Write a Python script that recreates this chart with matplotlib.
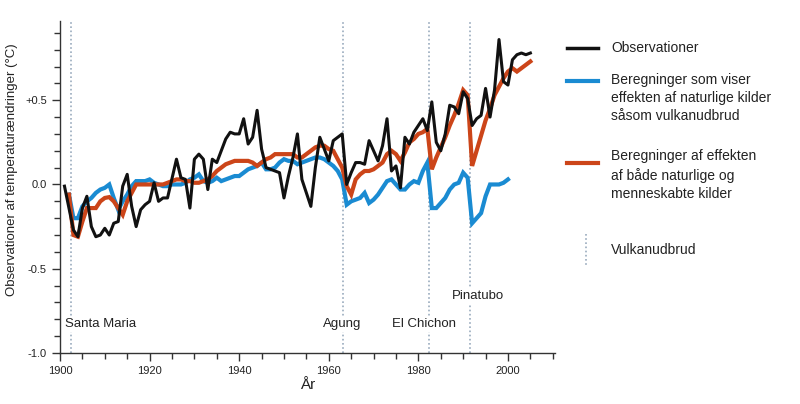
import matplotlib
matplotlib.use("Agg")
import matplotlib.pyplot as plt
from matplotlib.lines import Line2D
from matplotlib.ticker import MultipleLocator, FixedLocator

plt.rcParams['font.family'] = ['Liberation Sans', 'DejaVu Sans']

BLACK = "#111111"
BLUE = "#1a8bd2"
RED = "#cc4519"
VOLC = "#9aabbd"

# observations
obs_years = [1901, 1903, 1904, 1905, 1906, 1907, 1908, 1909, 1910, 1911, 1912, 1913,
             1914, 1915, 1916, 1917, 1918, 1919, 1920, 1921, 1922, 1923, 1924, 1926,
             1927, 1928, 1929, 1930, 1931, 1932, 1933, 1934, 1935, 1936, 1937, 1938,
             1939, 1940, 1941, 1942, 1943, 1944, 1945, 1946, 1947, 1948, 1949, 1950,
             1951, 1952, 1953, 1954, 1955, 1956, 1957, 1958, 1959, 1960, 1961, 1962,
             1963, 1964, 1965, 1966, 1967, 1968, 1969, 1970, 1971, 1972, 1973, 1974,
             1975, 1976, 1977, 1978, 1979, 1980, 1981, 1982, 1983, 1984, 1985, 1986,
             1987, 1988, 1989, 1990, 1991, 1992, 1993, 1994, 1995, 1996, 1997, 1998,
             1999, 2000, 2001, 2002, 2003, 2004, 2005]
obs_vals = [-0.01, -0.27, -0.31, -0.14, -0.07, -0.25, -0.31, -0.30, -0.26, -0.30, -0.23, -0.22,
            -0.01, 0.06, -0.13, -0.25, -0.15, -0.12, -0.10, 0.01, -0.10, -0.08, -0.08, 0.15,
            0.04, 0.03, -0.14, 0.15, 0.18, 0.15, -0.03, 0.15, 0.13, 0.20, 0.27, 0.31,
            0.30, 0.30, 0.39, 0.24, 0.28, 0.44, 0.21, 0.10, 0.09, 0.08, 0.07, -0.08,
            0.05, 0.16, 0.30, 0.03, -0.05, -0.13, 0.10, 0.28, 0.21, 0.14, 0.26, 0.28,
            0.30, 0.00, 0.07, 0.13, 0.13, 0.12, 0.26, 0.20, 0.14, 0.23, 0.39, 0.08,
            0.11, -0.02, 0.28, 0.24, 0.31, 0.35, 0.39, 0.32, 0.49, 0.25, 0.20, 0.30,
            0.47, 0.46, 0.42, 0.55, 0.51, 0.35, 0.39, 0.41, 0.57, 0.40, 0.56, 0.86,
            0.61, 0.59, 0.74, 0.77, 0.78, 0.77, 0.78]

# model: natural + anthropogenic
all_years = list(range(1902, 2006))
all_vals = [-0.06, -0.30, -0.31, -0.22, -0.14, -0.14, -0.14, -0.10, -0.08, -0.075,
            -0.10, -0.14, -0.18, -0.10, -0.05, 0.00, 0.00, 0.00, 0.00, 0.00,
            0.00, 0.00, 0.01, 0.02, 0.03, 0.03, 0.02, 0.02, 0.01, 0.01,
            0.02, 0.03, 0.05, 0.08, 0.10, 0.12, 0.13, 0.14, 0.14, 0.14,
            0.14, 0.13, 0.11, 0.13, 0.15, 0.16, 0.18, 0.18, 0.18, 0.18,
            0.18, 0.16, 0.16, 0.18, 0.20, 0.22, 0.23, 0.23, 0.21, 0.20,
            0.15, 0.10, -0.01, -0.06, 0.03, 0.06, 0.08, 0.08, 0.09, 0.11,
            0.13, 0.18, 0.20, 0.18, 0.14, 0.19, 0.25, 0.27, 0.30, 0.31,
            0.33, 0.09, 0.16, 0.22, 0.28, 0.35, 0.41, 0.48, 0.56, 0.53,
            0.11, 0.20, 0.29, 0.38, 0.45, 0.53, 0.58, 0.63, 0.67, 0.69,
            0.67, 0.69, 0.71, 0.73]

# model: natural only
nat_years = list(range(1902, 2001))
nat_vals = [-0.06, -0.20, -0.20, -0.13, -0.10, -0.08, -0.05, -0.03, -0.02, 0.00,
            -0.08, -0.15, -0.10, -0.06, -0.01, 0.02, 0.02, 0.02, 0.03, 0.01,
            0.00, -0.01, -0.01, 0.00, 0.00, 0.00, 0.01, 0.03, 0.04, 0.06,
            0.02, 0.01, 0.02, 0.04, 0.02, 0.03, 0.04, 0.05, 0.05, 0.07,
            0.09, 0.10, 0.11, 0.13, 0.09, 0.09, 0.10, 0.13, 0.15, 0.14,
            0.14, 0.12, 0.13, 0.14, 0.15, 0.16, 0.16, 0.15, 0.13, 0.11,
            0.08, 0.03, -0.12, -0.10, -0.09, -0.08, -0.05, -0.11, -0.09, -0.06,
            -0.02, 0.02, 0.03, 0.00, -0.03, -0.03, 0.00, 0.02, 0.01, 0.08,
            0.13, -0.14, -0.14, -0.11, -0.08, -0.03, 0.00, 0.01, 0.07, 0.04,
            -0.23, -0.20, -0.17, -0.07, 0.00, 0.00, 0.00, 0.01, 0.03]

volcano_years = [1902.5, 1963.2, 1982.3, 1991.5]
volcano_names = ["Santa Maria", "Agung", "El Chichon", "Pinatubo"]
volcano_label_x = [1901.1, 1958.7, 1974.2, 1987.5]
volcano_label_y = [-0.83, -0.83, -0.83, -0.66]

legend_labels = ["Observationer",
                 "Beregninger som viser\neffekten af naturlige kilder\nsåsom vulkanudbrud",
                 "Beregninger af effekten\naf både naturlige og\nmenneskabte kilder",
                 "Vulkanudbrud"]

W, H = 800, 404
fig = plt.figure(figsize=(8.0, 4.04), dpi=100)
ax = fig.add_axes([60 / W, 1 - 353 / H, 495 / W, 332 / H])

for v in volcano_years:
    ax.axvline(v, ymin=0, ymax=1, color=VOLC, lw=1.2, ls=(0, (1, 1.5)), zorder=1)

ax.plot(nat_years, nat_vals, color=BLUE, lw=3.0, zorder=3, solid_joinstyle="miter")
ax.plot(all_years, all_vals, color=RED, lw=3.0, zorder=4, solid_joinstyle="miter")
ax.plot(obs_years, obs_vals, color=BLACK, lw=2.2, zorder=5)

for name, lx, ly in zip(volcano_names, volcano_label_x, volcano_label_y):
    ax.text(lx, ly, name, fontsize=9.5, color="#222222", va="center", ha="left",
            zorder=6, bbox=dict(facecolor="white", edgecolor="none", pad=1.0))

ax.set_xlim(1900, 2010.5)
ax.set_ylim(-1.0, 0.97)
ax.spines["top"].set_visible(False)
ax.spines["right"].set_visible(False)
for s in ("left", "bottom"):
    ax.spines[s].set_color("#333333")
    ax.spines[s].set_linewidth(1.0)

ax.xaxis.set_major_locator(FixedLocator([1900, 1920, 1940, 1960, 1980, 2000]))
ax.xaxis.set_minor_locator(MultipleLocator(5))
ax.yaxis.set_major_locator(FixedLocator([-1.0, -0.5, 0.0, 0.5]))
ax.yaxis.set_minor_locator(MultipleLocator(0.1))
ax.set_yticklabels(["-1.0", "-0.5", "0.0", "+0.5"])
ax.tick_params(axis="both", which="major", labelsize=8, colors="#333333",
               length=6, width=1.0, labelcolor="#222222")
ax.tick_params(axis="both", which="minor", length=4, width=1.0, colors="#333333")

ax.set_xlabel("År", fontsize=11, color="#222222", labelpad=1)
fig.text(12 / W, 1 - 170 / H, "Observationer af temperaturændringer (°C)",
         rotation=90, fontsize=9.5, color="#222222", ha="center", va="center")


# legend drawn by hand to match spacing
def fx(px):
    return px / W


def fy(py):
    return 1 - py / H


legend_line_y = [48, 81, 163]
legend_text_y = [48, 98, 175]
legend_colors = [BLACK, BLUE, RED]
for ly, ty, c, lab in zip(legend_line_y, legend_text_y, legend_colors, legend_labels[:3]):
    fig.add_artist(Line2D([fx(567), fx(598)], [fy(ly), fy(ly)], color=c,
                          lw=3.0 if c != BLACK else 2.5, transform=fig.transFigure))
    fig.text(fx(611), fy(ty), lab, fontsize=10, color="#222222", va="center",
             ha="left", linespacing=1.35)
fig.add_artist(Line2D([fx(586), fx(586)], [fy(234), fy(266)], color=VOLC, lw=1.2,
                      ls=(0, (1, 1.5)), transform=fig.transFigure))
fig.text(fx(611), fy(250), legend_labels[3], fontsize=10, color="#222222",
         va="center", ha="left")

fig.savefig("out.png", dpi=100, facecolor="white")
